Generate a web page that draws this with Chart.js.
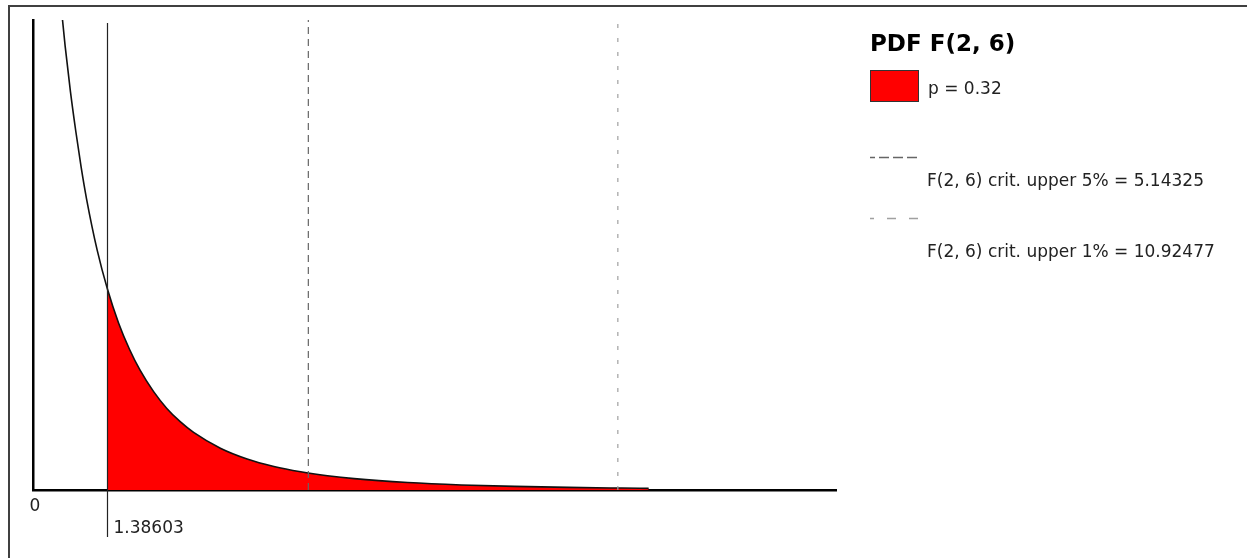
<!DOCTYPE html>
<html>
<head>
<meta charset="utf-8">
<script src="https://cdn.jsdelivr.net/npm/chart.js@4/dist/chart.umd.min.js"></script>
<style>
  html, body { margin: 0; padding: 0; background: #fff; }
  #wrap { width: 1247px; height: 558px; position: relative; }
</style>
</head>
<body>
<div id="wrap"><canvas id="c" width="1247" height="558"></canvas></div>
<script>
// F(2, 6) density, sampled along x
const xValues = [0.5, 0.6, 0.7, 0.8, 0.9, 1.0, 1.2, 1.38603, 1.6, 1.8, 2.0, 2.25, 2.5, 2.75, 3.0, 3.5, 4.0, 4.5, 5.0, 5.5, 6.0, 7.0, 8.0, 9.0, 10.0, 11.0, 11.5];
const density = [0.540, 0.482, 0.432, 0.389, 0.350, 0.316, 0.260, 0.219, 0.181, 0.153, 0.130, 0.107, 0.0885, 0.0741, 0.0625, 0.0454, 0.0337, 0.0256, 0.0198, 0.0155, 0.0123, 0.0081, 0.0055, 0.0039, 0.0028, 0.0021, 0.0018];

// observed statistic and its upper-tail probability
const fObserved = 1.38603;
const pValue = 0.32;

// critical values
const critLevels = ['5%', '1%'];
const critValues = [5.14325, 10.92477];

// axis ranges
const xRange = [0, 15];
const yRange = [0, 0.51];
const xTickLabels = ['0'];

const distName = 'F(2, 6)';
const titleText = 'PDF ' + distName;

const curvePoints = xValues.map((x, i) => ({ x: x, y: density[i] }));
const tailPoints = curvePoints.filter(p => p.x >= fObserved);

const critStyles = [
  { color: '#666666', dash: [7, 5] },
  { color: '#a0a0a0', dash: [4, 10] }
];

const critDatasets = critValues.map((v, i) => ({
  label: distName + ' crit. upper ' + critLevels[i] + ' = ' + v,
  data: [{ x: v, y: yRange[0] }, { x: v, y: yRange[1] }],
  borderColor: critStyles[i].color,
  borderDash: critStyles[i].dash,
  borderWidth: 1.2,
  pointRadius: 0,
  fill: false,
  order: 1
}));

const FONT = '"DejaVu Sans", "Liberation Sans", sans-serif';

const decor = {
  id: 'decor',
  beforeDraw(chart) {
    const ctx = chart.ctx;
    ctx.save();
    ctx.fillStyle = '#fff';
    ctx.fillRect(0, 0, chart.width, chart.height);
    // panel frame (top and left edges)
    ctx.strokeStyle = '#404040';
    ctx.lineWidth = 2;
    ctx.beginPath();
    ctx.moveTo(9, chart.height);
    ctx.lineTo(9, 6);
    ctx.lineTo(chart.width, 6);
    ctx.stroke();
    ctx.restore();
  },
  afterDatasetsDraw(chart) {
    const ctx = chart.ctx;
    const xs = chart.scales.x;
    const area = chart.chartArea;
    ctx.save();
    // marker line at the observed statistic, running down to its label
    const px = Math.round(xs.getPixelForValue(fObserved)) + 0.5;
    ctx.strokeStyle = '#222';
    ctx.lineWidth = 1.2;
    ctx.beginPath();
    ctx.moveTo(px, area.top + 3);
    ctx.lineTo(px, area.bottom + 47);
    ctx.stroke();

    ctx.fillStyle = '#222';
    ctx.font = '17px ' + FONT;
    ctx.textBaseline = 'middle';
    ctx.textAlign = 'center';
    xTickLabels.forEach(t => {
      ctx.fillText(t, xs.getPixelForValue(parseFloat(t)) + 2, area.bottom + 17);
    });
    ctx.textAlign = 'left';
    ctx.fillText(String(fObserved), px + 6, area.bottom + 39);
    ctx.restore();
  },
  afterDraw(chart) {
    const ctx = chart.ctx;
    ctx.save();
    const lx = 870;
    // title
    ctx.fillStyle = '#000';
    ctx.font = 'bold 23px ' + FONT;
    ctx.textBaseline = 'middle';
    ctx.textAlign = 'left';
    ctx.fillText(titleText, lx, 45);

    // shaded-area swatch
    ctx.fillStyle = '#ff0000';
    ctx.fillRect(lx, 70, 49, 32);
    ctx.strokeStyle = '#333';
    ctx.lineWidth = 1;
    ctx.strokeRect(lx + 0.5, 70.5, 48, 31);

    ctx.fillStyle = '#222';
    ctx.font = '17px ' + FONT;
    ctx.fillText('p = ' + pValue, 928, 90);

    // critical-value entries
    const rowLine = [157, 218];
    const rowText = [182, 253];
    const sampleDash = [[10, 4], [9, 13]];
    critDatasets.forEach((ds, i) => {
      ctx.strokeStyle = critStyles[i].color;
      ctx.lineWidth = 1.5;
      ctx.setLineDash(sampleDash[i]);
      ctx.lineDashOffset = 5;
      ctx.beginPath();
      ctx.moveTo(lx, rowLine[i] + 0.5);
      ctx.lineTo(lx + 48, rowLine[i] + 0.5);
      ctx.stroke();
      ctx.setLineDash([]);
      ctx.fillStyle = '#222';
      ctx.fillText(ds.label, 927, rowText[i]);
    });
    ctx.restore();
  }
};

new Chart(document.getElementById('c'), {
  type: 'line',
  data: {
    datasets: [
      {
        label: 'tail',
        data: tailPoints,
        borderWidth: 0,
        borderColor: 'rgba(0,0,0,0)',
        backgroundColor: '#ff0000',
        fill: 'origin',
        pointRadius: 0,
        cubicInterpolationMode: 'monotone',
        order: 5
      },
      {
        label: 'density',
        data: curvePoints,
        borderColor: '#111',
        borderWidth: 1.6,
        pointRadius: 0,
        fill: false,
        cubicInterpolationMode: 'monotone',
        order: 2
      },
      ...critDatasets
    ]
  },
  options: {
    responsive: false,
    devicePixelRatio: 1,
    animation: false,
    events: [],
    layout: { padding: { left: 33, top: 20, right: 411, bottom: 68 } },
    plugins: { legend: { display: false }, tooltip: { enabled: false }, title: { display: false } },
    scales: {
      x: {
        type: 'linear',
        min: xRange[0],
        max: xRange[1],
        grid: { display: false, drawTicks: false },
        ticks: { display: false },
        border: { display: true, color: '#000', width: 2.5 },
        afterFit(s) { s.height = 0; }
      },
      y: {
        type: 'linear',
        min: yRange[0],
        max: yRange[1],
        grid: { display: false, drawTicks: false },
        ticks: { display: false },
        border: { display: true, color: '#000', width: 2.5 },
        afterFit(s) { s.width = 0; }
      }
    }
  },
  plugins: [decor]
});
</script>
</body>
</html>
